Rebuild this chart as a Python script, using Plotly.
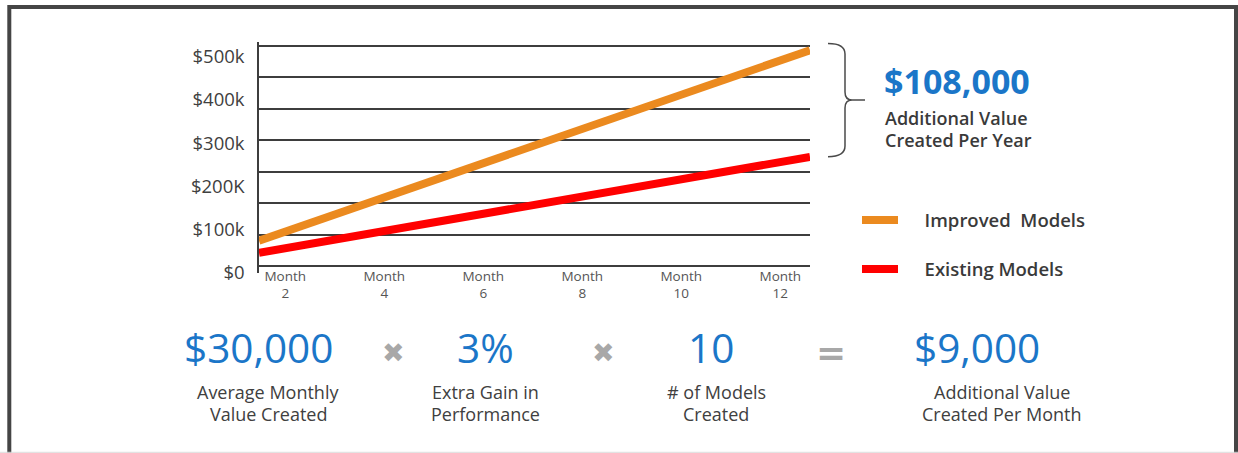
import plotly.graph_objects as go

W, H = 1238, 453

# ---------------- data ----------------
months_span = [1.47, 12.6]
improved_values = [74000, 515000]
existing_values = [46000, 268000]
series_names = ["\u2002\u2002\u2009Improved\u00a0 Models", "\u2002\u2002\u2009Existing Models"]
series_colors = ["#EB8A1F", "#FF0000"]

x_tick_months = [2, 4, 6, 8, 10, 12]
x_tick_text = [f"Month<br>{m}" for m in x_tick_months]
y_tick_values = [0, 100000, 200000, 300000, 400000, 500000]
y_tick_text = ["$0", "$100k", "$200K", "$300k", "$400k", "$500k"]
grid_levels = [0, 1, 2, 3, 4, 5, 6, 7]

yearly_value = "$108,000"
yearly_label = ["Additional Value", "Created Per Year"]
summary_values = ["$30,000", "3%", "10", "$9,000"]
summary_labels = [["Average Monthly", "Value Created"], ["Extra Gain in", "Performance"],
                  ["# of Models", "Created"], ["Additional Value", "Created Per Month"]]
operators = ["\u2716", "\u2716", "="]

# ---------------- helpers (pixel -> paper) ----------------
def X(px):
    return px / W

def Y(py):
    return 1 - py / H

FONT = "'Open Sans', Lato, sans-serif"
BLUE = "#1B76C8"
DARK = "#404040"
GRID = "#3d3d3d"

fig = go.Figure()
fig.add_trace(go.Scatter(x=months_span, y=improved_values, mode="lines", name=series_names[0],
                         line=dict(color=series_colors[0], width=8), legendgroup="a"))
fig.add_trace(go.Scatter(x=months_span, y=existing_values, mode="lines", name=series_names[1],
                         line=dict(color=series_colors[1], width=8), legendgroup="b"))
fig.add_trace(go.Scatter(x=[], y=[], yaxis="y2", showlegend=False, hoverinfo="skip"))

fig.update_layout(
    width=W, height=H,
    margin=dict(l=0, r=0, t=0, b=0, autoexpand=False),
    paper_bgcolor="white", plot_bgcolor="rgba(0,0,0,0)",
    font=dict(family=FONT, color=DARK),
    xaxis=dict(domain=[X(259), X(810)], range=months_span, tickvals=x_tick_months,
               ticktext=x_tick_text, showgrid=False, zeroline=False, showline=False,
               anchor="free", position=Y(266), ticks="", automargin=False,
               tickfont=dict(size=13.5, color="#555555")),
    yaxis=dict(domain=[Y(272.7), Y(41.7)], range=[0, 534700], tickvals=y_tick_values,
               ticktext=y_tick_text, showgrid=False, zeroline=False, showline=True,
               linecolor=GRID, linewidth=1.5, ticks="", ticklabelstandoff=9,
               automargin=False, tickfont=dict(size=18.5, color=DARK)),
    yaxis2=dict(overlaying="y", anchor="x", range=[-0.213, 7.127], tickvals=grid_levels,
                showgrid=True, gridcolor=GRID, gridwidth=1.5, showticklabels=False,
                zeroline=False, showline=False, ticks="", automargin=False),
    legend=dict(x=X(857), y=Y(201.5), xanchor="left", yanchor="top",
                font=dict(size=18.5, color="#3a3a3a", family=FONT, weight=600),
                itemwidth=36, tracegroupgap=22, traceorder="grouped",
                bgcolor="rgba(0,0,0,0)"),
    showlegend=True,
)

shapes = []
# frame
shapes.append(dict(type="rect", xref="paper", yref="paper", x0=X(9.3), x1=X(1236),
                   y0=Y(7), y1=Y(480), line=dict(color="#454545", width=4)))
shapes.append(dict(type="line", xref="paper", yref="paper", x0=0, x1=1, y0=Y(452.3),
                   y1=Y(452.3), line=dict(color="#dcdcdc", width=1)))

# bracket
def P(px, py):
    return f"{X(px):.5f},{Y(py):.5f}"

bracket = (f"M{P(828,43.5)} Q{P(845,43.5)} {P(845,54)} L{P(845,92)} "
           f"Q{P(845,100)} {P(852,100)} L{P(865,100)} M{P(852,100)} "
           f"Q{P(845,100)} {P(845,108)} L{P(845,146)} Q{P(845,156.7)} {P(828,156.7)}")
shapes.append(dict(type="path", xref="paper", yref="paper", path=bracket,
                   line=dict(color="#4a4a4a", width=1.5)))
fig.update_layout(shapes=shapes)

ann = []
ann.append(dict(text=yearly_value, x=X(882), y=Y(81), xanchor="left", yanchor="middle",
                font=dict(size=34, color=BLUE, family=FONT, weight="bold")))
for i, line in enumerate(yearly_label):
    ann.append(dict(text=line, x=X(883), y=Y(118 + 22.3 * i), xanchor="left",
                    yanchor="middle", font=dict(size=18, color="#3a3a3a", family=FONT,
                                                weight=600)))

value_x = [258, 485, 711, 977]
label_x = [268, 486, 716, 1002]
for vx, val in zip(value_x, summary_values):
    ann.append(dict(text=val, x=X(vx), y=Y(347), xanchor="center", yanchor="middle",
                    font=dict(size=40.5, color=BLUE, family=FONT)))
for lx, lines in zip(label_x, summary_labels):
    for i, line in enumerate(lines):
        ann.append(dict(text=line, x=X(lx), y=Y(391.7 + 22.3 * i), xanchor="center",
                        yanchor="middle", font=dict(size=18, color=DARK, family=FONT)))
op_x = [393, 603, 831]
for ox, op in zip(op_x, operators):
    ann.append(dict(text=op, x=X(ox), y=Y(352), xanchor="center", yanchor="middle",
                    font=dict(size=27 if op != "=" else 36, color="#A8A8A8",
                              family="DejaVu Sans", weight="bold")))
for a in ann:
    a.update(xref="paper", yref="paper", showarrow=False)
fig.update_layout(annotations=ann)

fig.write_html("out.html", post_script="document.body.style.margin='0px';",
               config={"displayModeBar": False})
